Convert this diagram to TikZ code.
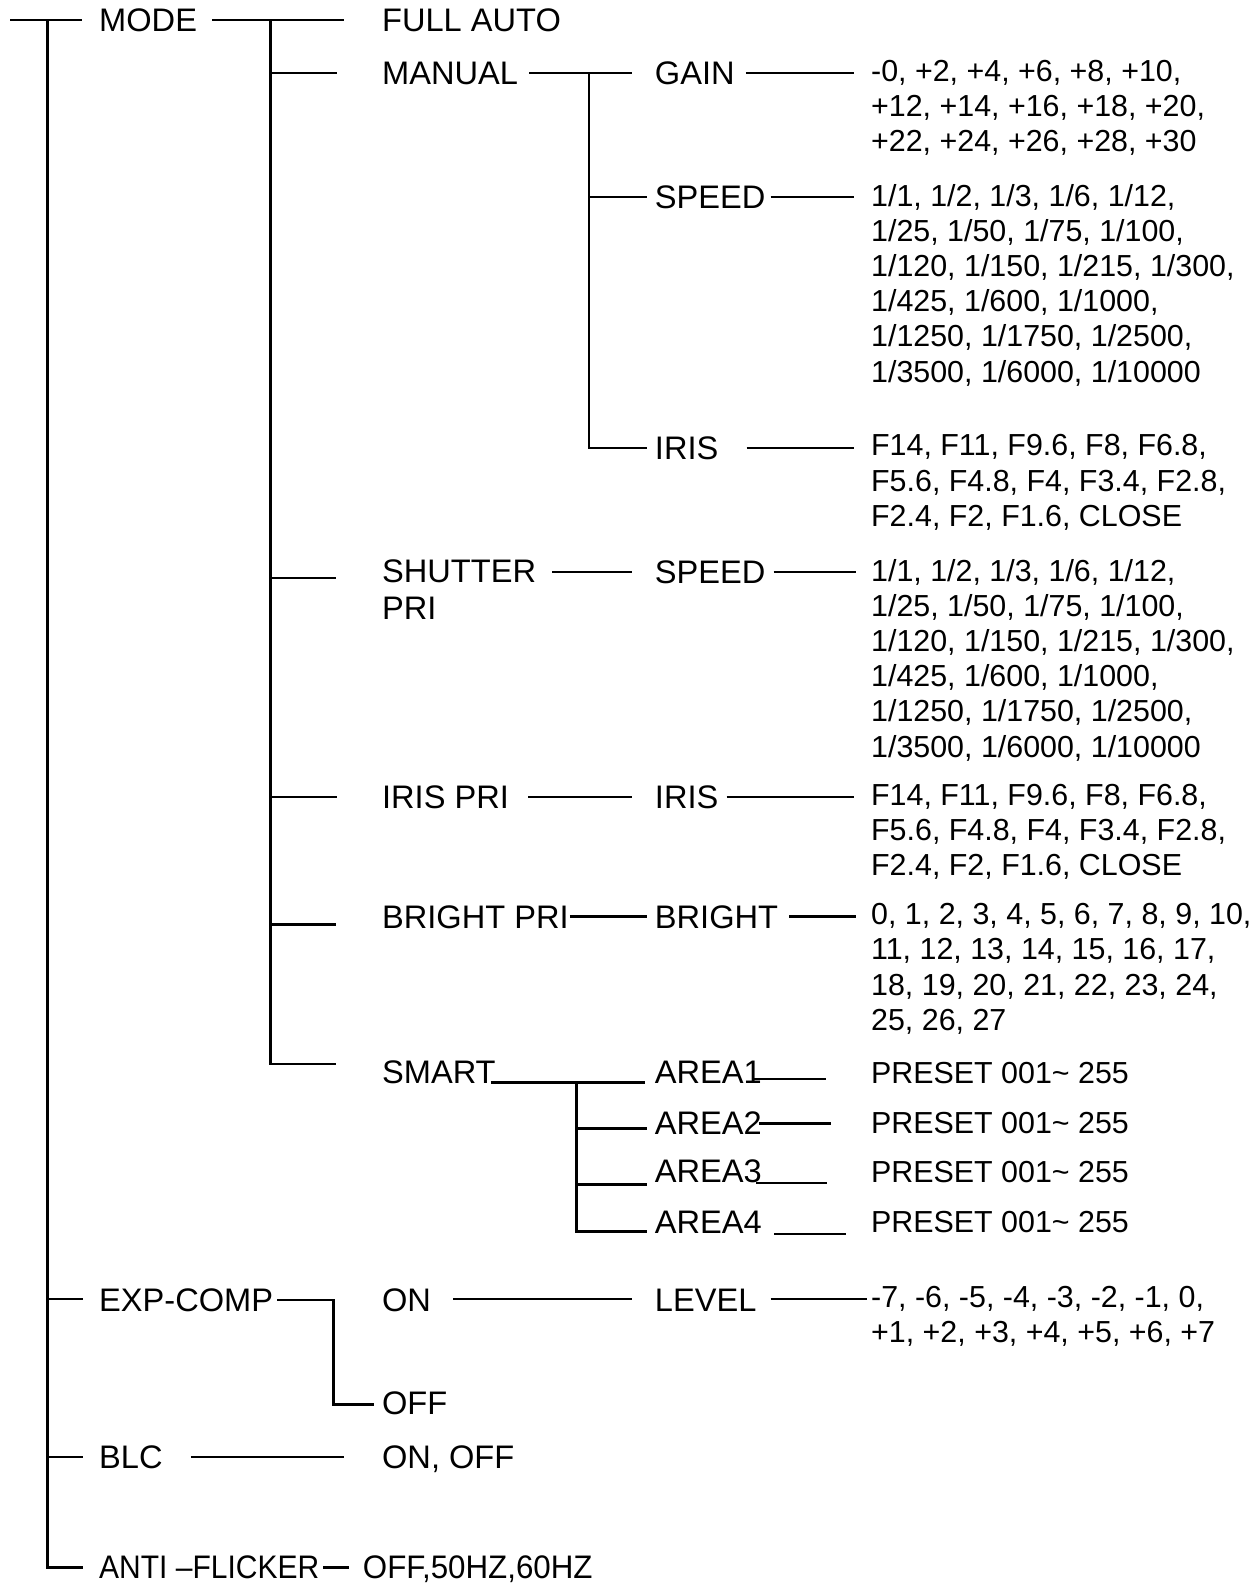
\documentclass[tikz,border=0pt]{standalone}
\usepackage{fontspec}
\setmainfont{Liberation Sans}
\newfontfamily\narrowfont{Liberation Sans}[FakeStretch=0.92]
\newfontfamily\semifont{Liberation Sans}[FakeStretch=0.96]
\usetikzlibrary{calc}
\begin{document}
\begin{tikzpicture}[x=1.0104pt,y=-1.0104pt,
  lab/.style={anchor=west,inner sep=0pt,text height=23.3pt,text depth=0pt,font=\fontsize{32.6}{36.8}\selectfont},
  labtwo/.style={anchor=north west,inner sep=0pt,align=left,yshift=12.35pt,font=\fontsize{32.6}{36.8}\selectfont,execute at begin node={\rule{0pt}{24pt}}},
  val/.style={anchor=north west,inner sep=0pt,align=left,yshift=13.1pt,font=\fontsize{30.4}{35.2}\selectfont,execute at begin node={\rule{0pt}{24pt}}},
  narrow/.style={font=\narrowfont\fontsize{32.6}{36.8}\selectfont},
  semi/.style={font=\semifont\fontsize{32.6}{36.8}\selectfont},
  ln/.style={line width=2.2pt},
  vln/.style={line width=2.8pt},
  sln/.style={line width=3.1pt},
  tln/.style={line width=2pt}]
\useasboundingbox (0,0) rectangle (1243.07,1566.71);

% ---- nodes ----
\node[lab] (mode) at (98,20) {MODE};
\node[lab] (full) at (378,20) {FULL AUTO};
\node[lab] (manual) at (378,72) {MANUAL};
\node[lab] (gain) at (648,72) {GAIN};
\node[val] (gainv) at (862,72) {-0, +2, +4, +6, +8, +10,\\+12, +14, +16, +18, +20,\\+22, +24, +26, +28, +30};
\node[lab] (mspeed) at (648,195) {SPEED};
\node[val] (mspeedv) at (862,195) {1/1, 1/2, 1/3, 1/6, 1/12,\\1/25, 1/50, 1/75, 1/100,\\1/120, 1/150, 1/215, 1/300,\\1/425, 1/600, 1/1000,\\1/1250, 1/1750, 1/2500,\\1/3500, 1/6000, 1/10000};
\node[lab] (miris) at (648,443) {IRIS};
\node[val] (mirisv) at (862,443) {F14, F11, F9.6, F8, F6.8,\\F5.6, F4.8, F4, F3.4, F2.8,\\F2.4, F2, F1.6, CLOSE};
\node[labtwo] (shutter) at (378,566) {SHUTTER\\PRI};
\node[lab] (sspeed) at (648,566) {SPEED};
\node[val] (sspeedv) at (862,566) {1/1, 1/2, 1/3, 1/6, 1/12,\\1/25, 1/50, 1/75, 1/100,\\1/120, 1/150, 1/215, 1/300,\\1/425, 1/600, 1/1000,\\1/1250, 1/1750, 1/2500,\\1/3500, 1/6000, 1/10000};
\node[lab] (irispri) at (378,789) {IRIS PRI};
\node[lab] (piris) at (648,789) {IRIS};
\node[val] (pirisv) at (862,789) {F14, F11, F9.6, F8, F6.8,\\F5.6, F4.8, F4, F3.4, F2.8,\\F2.4, F2, F1.6, CLOSE};
\node[lab] (brightpri) at (378,907) {BRIGHT PRI};
\node[lab] (bright) at (648,907) {BRIGHT};
\node[val] (brightv) at (862,907) {0, 1, 2, 3, 4, 5, 6, 7, 8, 9, 10,\\11, 12, 13, 14, 15, 16, 17,\\18, 19, 20, 21, 22, 23, 24,\\25, 26, 27};
\node[lab] (smart) at (378,1061) {SMART};
\node[lab] (area1) at (648,1061) {AREA1};
\node[lab] (area2) at (648,1111) {AREA2};
\node[lab] (area3) at (648,1159) {AREA3};
\node[lab] (area4) at (648,1209) {AREA4};
\node[val] (pre1) at (862,1061) {PRESET 001\textasciitilde{} 255};
\node[val] (pre2) at (862,1111) {PRESET 001\textasciitilde{} 255};
\node[val] (pre3) at (862,1159) {PRESET 001\textasciitilde{} 255};
\node[val] (pre4) at (862,1209) {PRESET 001\textasciitilde{} 255};
\node[lab] (exp) at (98,1286) {EXP-COMP};
\node[lab] (on) at (378,1286) {ON};
\node[lab] (level) at (648,1286) {LEVEL};
\node[val] (levelv) at (862,1286) {-7, -6, -5, -4, -3, -2, -1, 0,\\+1, +2, +3, +4, +5, +6, +7};
\node[lab] (off) at (378,1388) {OFF};
\node[lab] (blc) at (98,1442) {BLC};
\node[lab] (blcv) at (378,1442) {ON, OFF};
\node[lab,narrow] (anti) at (98,1551) {ANTI –FLICKER};
\node[lab,semi] (antiv) at (359,1551) {OFF,50HZ,60HZ};

% ---- root ----
\coordinate (r0) at (10,20);
\coordinate (rj) at (47,20);
\draw[ln] (r0) -- ([xshift=-17pt]mode.west);
\draw[vln] (rj) |- ([xshift=-16pt]anti.west);
\draw[ln] (rj |- exp.west) -- ([xshift=-16pt]exp.west);
\draw[ln] (rj |- blc.west) -- ([xshift=-16pt]blc.west);

% ---- MODE ----
\coordinate (mj) at (268,20);
\coordinate (shb) at (333,572);
\coordinate (brb) at (333,915);
\coordinate (smb) at (333,1053);
\draw[ln] ([xshift=15pt]mode.east) -- ([xshift=-38pt]full.west);
\draw[vln] (mj) |- (smb);
\draw[ln] (mj |- manual.west) -- ([xshift=-45pt]manual.west);
\draw[ln] (mj |- shb) -- (shb);
\draw[ln] (mj |- irispri.west) -- ([xshift=-45pt]irispri.west);
\draw[ln] (mj |- brb) -- (brb);

% ---- MANUAL ----
\coordinate (aj) at (583,72);
\draw[ln] ([xshift=11pt]manual.east) -- ([xshift=-23pt]gain.west);
\draw[tln] (aj) |- ([xshift=-8pt]miris.west);
\draw[ln] (aj |- mspeed.west) -- ([xshift=-8pt]mspeed.west);
\draw[ln] ([xshift=11pt]gain.east) -- ($(gain.east -| gainv.west)+(-17,0)$);
\draw[ln] ([xshift=5pt]mspeed.east) -- ($(mspeed.east -| mspeedv.west)+(-17,0)$);
\draw[ln] ([xshift=28pt]miris.east) -- ($(miris.east -| mirisv.west)+(-17,0)$);

% ---- SHUTTER PRI ----
\draw[ln] ($(shutter.north east |- sspeed.west)+(16,0)$) -- ([xshift=-23pt]sspeed.west);
\draw[ln] ([xshift=8pt]sspeed.east) -- ($(sspeed.east -| sspeedv.west)+(-15,0)$);

% ---- IRIS PRI ----
\draw[ln] ([xshift=19pt]irispri.east) -- ([xshift=-23pt]piris.west);
\draw[ln] ([xshift=8pt]piris.east) -- ($(piris.east -| pirisv.west)+(-17,0)$);

% ---- BRIGHT PRI ----
\draw[ln] ([xshift=1pt]brightpri.east) -- ([xshift=-8pt]bright.west);
\draw[ln] ([xshift=11pt]bright.east) -- ($(bright.east -| brightv.west)+(-15,0)$);

% ---- SMART ----
\coordinate (sj) at (571,1071);
\draw[sln] ($(smart.east)+(-5,10)$) -- ($(area1.west)+(-10,10)$);
\draw[sln] (sj) |- ($(area4.west)+(-8,10)$);
\draw[sln] (sj |- 0,1117) -- ($(area2.west)+(-8,6)$);
\draw[sln] (sj |- 0,1172) -- ($(area3.west)+(-8,13)$);
\draw[ln] ($(area1.east)+(-10,7)$) -- ($(area1.east -| pre1.west)+(-45,7)$);
\draw[ln] ($(area2.east)+(-3,1)$) -- ($(area2.east -| pre2.west)+(-40,1)$);
\draw[ln] ($(area3.east)+(-6,12)$) -- ($(area3.east -| pre3.west)+(-44,12)$);
\draw[ln] ($(area4.east)+(12,12)$) -- ($(area4.east -| pre4.west)+(-25,12)$);

% ---- EXP-COMP ----
\coordinate (ej) at (330,1287);
\draw[ln] ([xshift=4pt]exp.east |- ej) -- (ej) |- ([xshift=-8pt,yshift=-2pt]off.west);
\draw[ln] ([xshift=22pt]on.east) -- ([xshift=-23pt]level.west);
\draw[ln] ([xshift=14pt]level.east) -- ($(level.east -| levelv.west)+(-4,0)$);

% ---- BLC ----
\draw[ln] ([xshift=28pt]blc.east) -- ([xshift=-38pt]blcv.west);

% ---- ANTI-FLICKER ----
\draw[sln] ([xshift=4pt]anti.east) -- ([xshift=-14pt]antiv.west);
\end{tikzpicture}
\end{document}
